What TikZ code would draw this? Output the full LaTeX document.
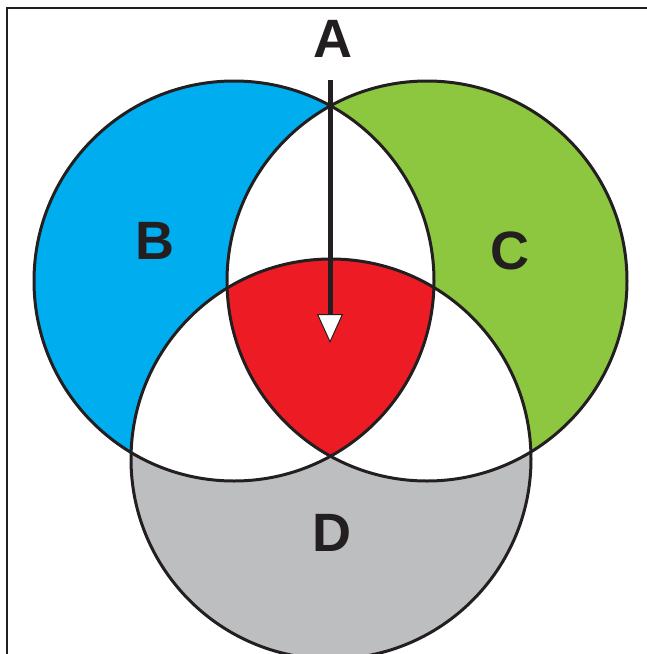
\documentclass[tikz,border=0pt]{standalone}
\usepackage{fontspec}
\setmainfont{Liberation Sans}
\usetikzlibrary{arrows.meta}
\definecolor{inkblack}{RGB}{35,31,32}
\definecolor{setblue}{RGB}{0,174,239}
\definecolor{setgreen}{RGB}{141,198,63}
\definecolor{setred}{RGB}{237,28,36}
\definecolor{setgray}{RGB}{188,190,192}
\begin{document}
\begin{tikzpicture}[x=1pt,y=-1pt,
    ring/.style={line width=3pt,draw=inkblack},
    setlabel/.style={font=\fontsize{54}{54}\selectfont\bfseries,text=inkblack}]
  \useasboundingbox (0,0) rectangle (647,654);
  % frame
  \draw[line width=1.5pt,inkblack] (7,654) -- (7,8) -- (647,8);
  % centres
  \coordinate (cB) at (234,281);
  \coordinate (cC) at (427,281);
  \coordinate (cD) at (331,459);
  % single sets
  \fill[setblue]  (cB) circle[radius=200pt];
  \fill[setgreen] (cC) circle[radius=200pt];
  \fill[setgray]  (cD) circle[radius=200pt];
  % pairwise overlaps
  \begin{scope}
    \clip (cB) circle[radius=200pt];
    \fill[white] (cC) circle[radius=200pt];
    \fill[white] (cD) circle[radius=200pt];
  \end{scope}
  \begin{scope}
    \clip (cC) circle[radius=200pt];
    \fill[white] (cD) circle[radius=200pt];
  \end{scope}
  % triple overlap
  \begin{scope}
    \clip (cB) circle[radius=200pt];
    \clip (cC) circle[radius=200pt];
    \fill[setred] (cD) circle[radius=200pt];
  \end{scope}
  %
  \draw[ring] (cB) circle[radius=200pt];
  \draw[ring] (cC) circle[radius=200pt];
  \draw[ring] (cD) circle[radius=200pt];
  % labels
  \node[setlabel] (lA) at (333,39) {A};
  \node[setlabel] (lB) at (155,241) {B};
  \node[setlabel] (lC) at (510,251) {C};
  \node[setlabel] (lD) at (332,533) {D};
  % arrow
  \coordinate (atop) at (330,80);
  \coordinate (atip) at (330,343);
  \draw[line width=5pt,inkblack,
    -{Triangle[width=26pt,length=29pt,fill=white,line width=1pt]}] (atop) -- (atip);
\end{tikzpicture}
\end{document}
